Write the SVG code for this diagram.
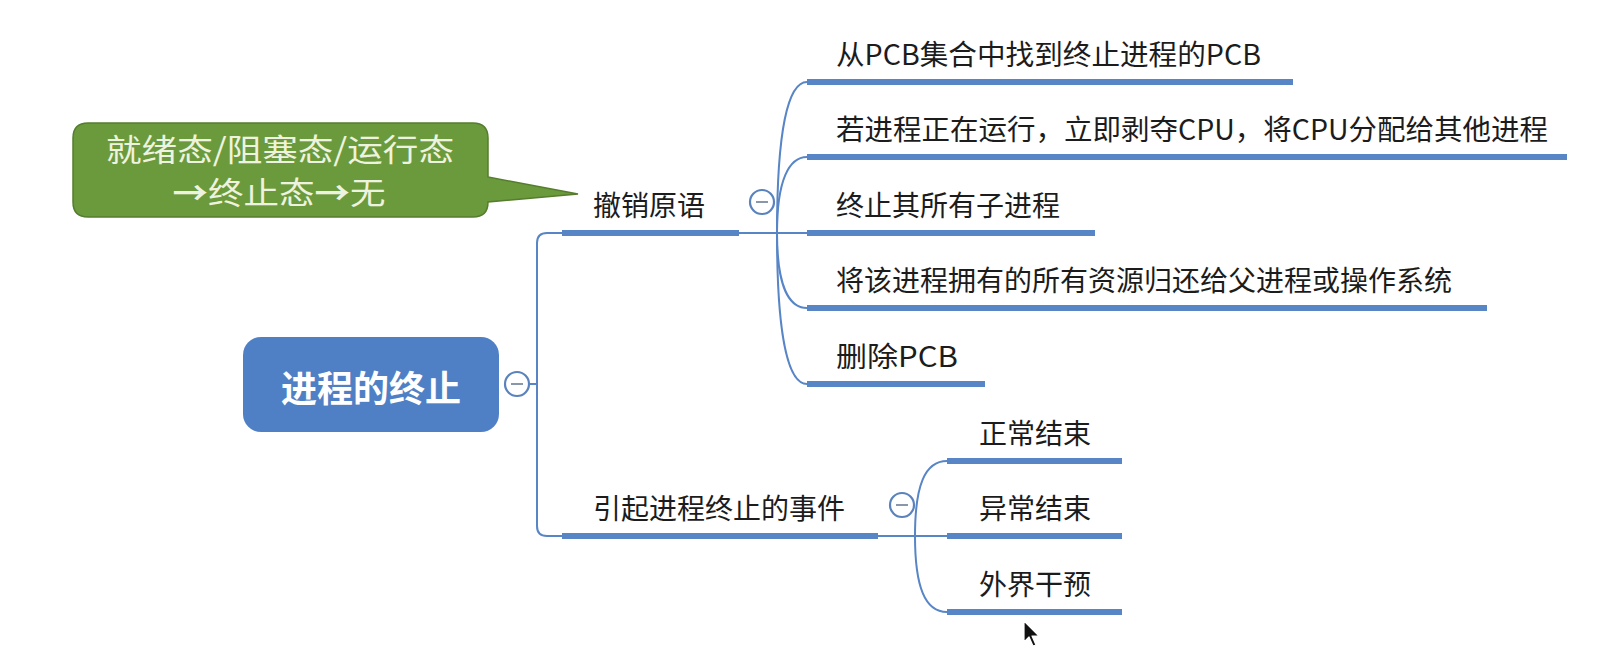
<svg xmlns="http://www.w3.org/2000/svg" width="1597" height="658" viewBox="0 0 1597 658">
  <style>
    .bg { fill: #ffffff; }
    .label { font-family: "Noto Sans CJK SC", "Noto Sans", sans-serif; font-size: 28px; fill: #1c1c1c; }
    .root-label { font-family: "Noto Sans CJK SC", "Noto Sans", sans-serif; font-size: 36px; font-weight: bold; fill: #ffffff; }
    .note-label { font-family: "Noto Sans CJK SC", "Noto Sans", sans-serif; font-size: 31px; fill: #eef3df; }
    .arrow { font-weight: bold; }
    .bar { stroke: #5785c6; stroke-width: 6; fill: none; }
    .link { stroke: #5785c6; stroke-width: 2; fill: none; }
    .toggle { fill: #ffffff; stroke: #5a82bd; stroke-width: 2.2; }
    .minus { stroke: #8a97ab; stroke-width: 2; }
  </style>

  <rect class="bg" x="0" y="0" width="1597" height="658"/>

  <!-- connectors: brackets, curves and underline bars -->
  <g id="connectors">
    <!-- root to first-level -->
    <line class="link" x1="529" y1="384" x2="537" y2="384"/>
    <path class="link" d="M562,233 H547 Q537,233 537,243 V526 Q537,536 547,536 H562"/>

    <!-- 撤销原语 fan -->
    <line class="link" x1="739" y1="233" x2="807" y2="233"/>
    <path class="link" d="M777,233 C777,130 788,82 807,82"/>
    <path class="link" d="M777,233 C777,180 789,157 807,157"/>
    <path class="link" d="M777,233 C777,286 789,308 807,308"/>
    <path class="link" d="M777,233 C777,336 788,384 807,384"/>

    <!-- 引起进程终止的事件 fan -->
    <line class="link" x1="878" y1="536" x2="947" y2="536"/>
    <path class="link" d="M915,536 C915,485 925,461 947,461"/>
    <path class="link" d="M915,536 C915,587 925,612 947,612"/>

    <!-- underline bars -->
    <line class="bar" x1="562" y1="233" x2="739" y2="233"/>
    <line class="bar" x1="562" y1="536" x2="878" y2="536"/>
    <line class="bar" x1="807" y1="82" x2="1293" y2="82"/>
    <line class="bar" x1="807" y1="157" x2="1567" y2="157"/>
    <line class="bar" x1="807" y1="233" x2="1095" y2="233"/>
    <line class="bar" x1="807" y1="308" x2="1487" y2="308"/>
    <line class="bar" x1="807" y1="384" x2="985" y2="384"/>
    <line class="bar" x1="947" y1="461" x2="1122" y2="461"/>
    <line class="bar" x1="947" y1="536" x2="1122" y2="536"/>
    <line class="bar" x1="947" y1="612" x2="1122" y2="612"/>
  </g>

  <!-- central topic -->
  <g id="root">
    <rect x="243" y="337" width="256" height="95" rx="18" ry="18" fill="#4f80c5"/>
    <text class="root-label" x="371" y="402" text-anchor="middle">进程的终止</text>
    <circle class="toggle" cx="517" cy="384" r="12"/>
    <line class="minus" x1="511" y1="384" x2="523" y2="384"/>
  </g>

  <!-- callout note -->
  <g id="note">
    <path d="M88,123 H473 Q488,123 488,138 V177 L578,194 L488,202 Q488,217 473,217 H88 Q73,217 73,202 V138 Q73,123 88,123 Z" fill="#6b9a3c" stroke="#557d2d" stroke-width="1.5"/>
    <text class="note-label" x="280" y="161" text-anchor="middle" textLength="348" lengthAdjust="spacingAndGlyphs">就绪态/阻塞态/运行态</text>
    <text class="note-label" x="279" y="204" text-anchor="middle" textLength="213" lengthAdjust="spacingAndGlyphs"><tspan class="arrow">→</tspan>终止态<tspan class="arrow">→</tspan>无</text>
  </g>

  <!-- first-level topic: 撤销原语 -->
  <g id="topic-revoke">
    <text class="label" x="593" y="216">撤销原语</text>
    <circle class="toggle" cx="762" cy="202" r="12"/>
    <line class="minus" x1="756" y1="202" x2="768" y2="202"/>
  </g>

  <g id="step-find-pcb">
    <text class="label" x="836" y="65" textLength="425" lengthAdjust="spacingAndGlyphs">从PCB集合中找到终止进程的PCB</text>
  </g>
  <g id="step-preempt-cpu">
    <text class="label" x="836" y="140" textLength="712" lengthAdjust="spacingAndGlyphs">若进程正在运行，立即剥夺CPU，将CPU分配给其他进程</text>
  </g>
  <g id="step-kill-children">
    <text class="label" x="836" y="216">终止其所有子进程</text>
  </g>
  <g id="step-return-resources">
    <text class="label" x="836" y="291">将该进程拥有的所有资源归还给父进程或操作系统</text>
  </g>
  <g id="step-delete-pcb">
    <text class="label" x="836" y="367" textLength="122" lengthAdjust="spacingAndGlyphs">删除PCB</text>
  </g>

  <!-- first-level topic: 引起进程终止的事件 -->
  <g id="topic-events">
    <text class="label" x="593" y="519">引起进程终止的事件</text>
    <circle class="toggle" cx="902" cy="505" r="12"/>
    <line class="minus" x1="896" y1="505" x2="908" y2="505"/>
  </g>

  <g id="event-normal">
    <text class="label" x="979" y="444">正常结束</text>
  </g>
  <g id="event-abnormal">
    <text class="label" x="979" y="519">异常结束</text>
  </g>
  <g id="event-external">
    <text class="label" x="979" y="595">外界干预</text>
  </g>

  <!-- mouse pointer -->
  <g id="pointer">
    <path d="M1024,621 L1024,642 L1029,637 L1033,646 L1036,645 L1032,636 L1039,636 Z" fill="#111111" stroke="#ffffff" stroke-width="1.2" stroke-linejoin="round"/>
  </g>
</svg>
